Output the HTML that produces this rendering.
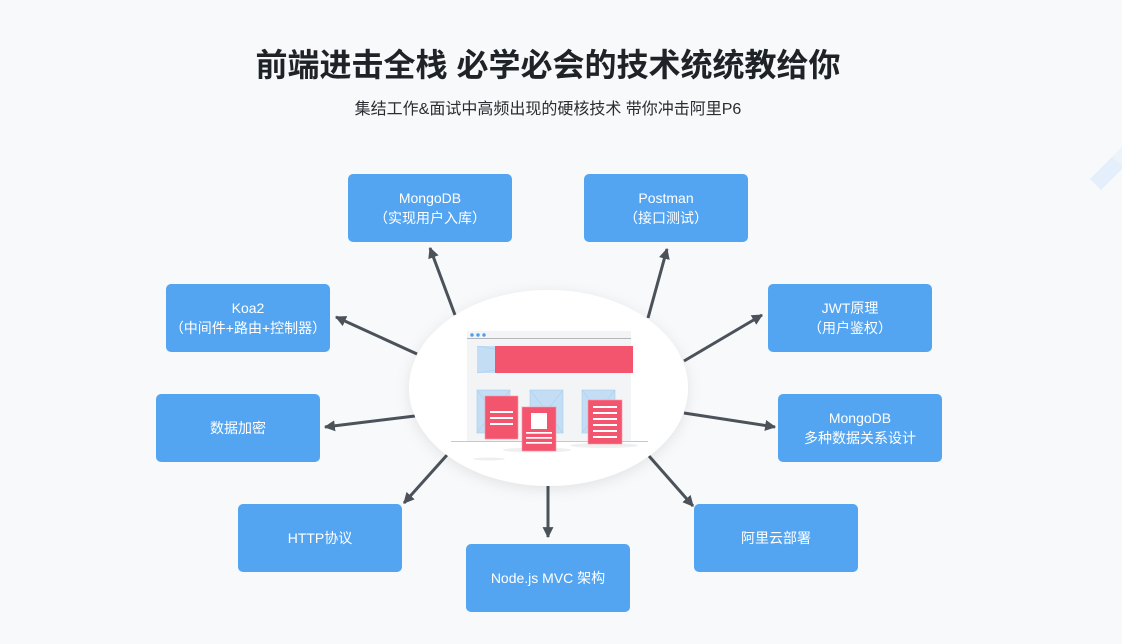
<!DOCTYPE html>
<html>
<head>
<meta charset="utf-8">
<style>
  html,body{margin:0;padding:0;}
  body{width:1122px;height:644px;position:relative;overflow:hidden;background:#f7f9fb;
    font-family:"Liberation Sans","Noto Sans CJK SC",sans-serif;}
  .title{position:absolute;left:0;width:1096px;top:45px;text-align:center;font-size:32px;line-height:40px;
    font-weight:bold;color:#1f2226;letter-spacing:0px;}
  .sub{position:absolute;left:0;width:1096px;top:98px;text-align:center;font-size:16px;line-height:24px;color:#2a2d31;}
  .box{position:absolute;width:164px;height:68px;background:#54a5f1;border-radius:5px;color:#fff;
    font-size:14px;line-height:20px;display:flex;flex-direction:column;align-items:center;justify-content:center;text-align:center;}
  svg{position:absolute;left:0;top:0;}
</style>
</head>
<body>
<svg width="1122" height="644" viewBox="0 0 1122 644">
  <defs>
    <filter id="sh" x="-20%" y="-20%" width="140%" height="150%">
      <feDropShadow dx="0" dy="3" stdDeviation="7" flood-color="#000" flood-opacity="0.09"/>
    </filter>
    <marker id="ah" viewBox="0 0 10 10" refX="9" refY="5" markerWidth="11" markerHeight="11" markerUnits="userSpaceOnUse" orient="auto">
      <path d="M0,0 L10,5 L0,10 z" fill="#4b5259"/>
    </marker>
  </defs>
  <!-- decorative diagonal -->
  <polygon points="1090,179 1112,157 1122,165 1122,169 1101,190" fill="#e5effb"/>
  <polygon points="1112,157 1122,147 1122,165" fill="#edf3fb"/>

  <!-- arrows -->
  <g stroke="#4b5259" stroke-width="3" fill="none" marker-end="url(#ah)">
    <line x1="455" y1="315" x2="430" y2="248"/>
    <line x1="417" y1="354" x2="336" y2="317"/>
    <line x1="648" y1="318" x2="667" y2="249"/>
    <line x1="684" y1="361" x2="762" y2="315"/>
    <line x1="415" y1="416" x2="325" y2="427"/>
    <line x1="684" y1="413" x2="775" y2="427"/>
    <line x1="447" y1="455" x2="404" y2="503"/>
    <line x1="649" y1="456" x2="693" y2="506"/>
    <line x1="548" y1="484" x2="548" y2="537"/>
  </g>

  <!-- central ellipse -->
  <ellipse cx="548.5" cy="388" rx="139.5" ry="98" fill="#ffffff" filter="url(#sh)"/>

  <!-- illustration -->
  <rect x="467" y="331" width="164" height="110" fill="#f3f4f6"/>
  <line x1="467" y1="338.5" x2="631" y2="338.5" stroke="#b4b6b9" stroke-width="1"/>
  <circle cx="472" cy="335" r="1.7" fill="#4a9ff0"/>
  <circle cx="478" cy="335" r="1.7" fill="#4a9ff0"/>
  <circle cx="484" cy="335" r="1.7" fill="#4a9ff0"/>
  <rect x="477" y="346" width="18" height="27" fill="#c3ddf4"/>
  <line x1="477" y1="346" x2="495" y2="349" stroke="#a9cdef" stroke-width="0.6"/>
  <line x1="477" y1="373" x2="495" y2="370" stroke="#a9cdef" stroke-width="0.6"/>
  <rect x="495" y="346" width="138" height="27" fill="#f3556f"/>

  <g fill="#c3ddf4" stroke="#a9cdef" stroke-width="0.6">
    <rect x="477" y="390" width="33" height="43"/>
    <rect x="530" y="390" width="33" height="43"/>
    <rect x="582" y="390" width="33" height="43"/>
    <line x1="477" y1="390" x2="510" y2="433"/><line x1="510" y1="390" x2="477" y2="433"/>
    <line x1="530" y1="390" x2="563" y2="433"/><line x1="563" y1="390" x2="530" y2="433"/>
    <line x1="582" y1="390" x2="615" y2="433"/><line x1="615" y1="390" x2="582" y2="433"/>
  </g>

  <ellipse cx="537" cy="450" rx="34" ry="2.5" fill="#efefef"/>
  <ellipse cx="604" cy="445.5" rx="34" ry="2.5" fill="#efefef"/>
  <ellipse cx="489" cy="459" rx="16" ry="1.5" fill="#efefef"/>
  <line x1="451" y1="441.5" x2="648" y2="441.5" stroke="#c6c8ca" stroke-width="1"/>

  <!-- doc 1 -->
  <rect x="485" y="396" width="33" height="43" fill="#f3546e" stroke="#f59aa9" stroke-width="0.6"/>
  <g fill="#fff">
    <rect x="490" y="411" width="23" height="2"/>
    <rect x="490" y="417" width="23" height="2"/>
    <rect x="490" y="423" width="23" height="2"/>
  </g>
  <!-- doc 2 -->
  <rect x="522" y="407" width="34" height="44" fill="#f3546e" stroke="#f59aa9" stroke-width="0.6"/>
  <g fill="#fff">
    <rect x="531" y="413" width="16" height="16"/>
    <rect x="526" y="432" width="26" height="1.7"/>
    <rect x="526" y="437" width="26" height="1.7"/>
    <rect x="526" y="442" width="26" height="1.7"/>
  </g>
  <!-- doc 3 -->
  <rect x="588" y="400" width="34" height="44" fill="#f3546e" stroke="#f59aa9" stroke-width="0.6"/>
  <g fill="#fff">
    <rect x="593" y="406" width="24" height="2"/>
    <rect x="593" y="412" width="24" height="2"/>
    <rect x="593" y="418" width="24" height="2"/>
    <rect x="593" y="424" width="24" height="2"/>
    <rect x="593" y="430" width="24" height="2"/>
    <rect x="593" y="436" width="24" height="2"/>
  </g>
</svg>

<div class="title">前端进击全栈 必学必会的技术统统教给你</div>
<div class="sub">集结工作&amp;面试中高频出现的硬核技术 带你冲击阿里P6</div>

<div class="box" style="left:348px;top:174px;"><div>MongoDB</div><div>（实现用户入库）</div></div>
<div class="box" style="left:584px;top:174px;"><div>Postman</div><div>（接口测试）</div></div>
<div class="box" style="left:166px;top:284px;"><div>Koa2</div><div>（中间件+路由+控制器）</div></div>
<div class="box" style="left:768px;top:284px;"><div>JWT原理</div><div>（用户鉴权）</div></div>
<div class="box" style="left:156px;top:394px;"><div>数据加密</div></div>
<div class="box" style="left:778px;top:394px;"><div>MongoDB</div><div>多种数据关系设计</div></div>
<div class="box" style="left:238px;top:504px;"><div>HTTP协议</div></div>
<div class="box" style="left:694px;top:504px;"><div>阿里云部署</div></div>
<div class="box" style="left:466px;top:544px;"><div>Node.js MVC 架构</div></div>
</body>
</html>
